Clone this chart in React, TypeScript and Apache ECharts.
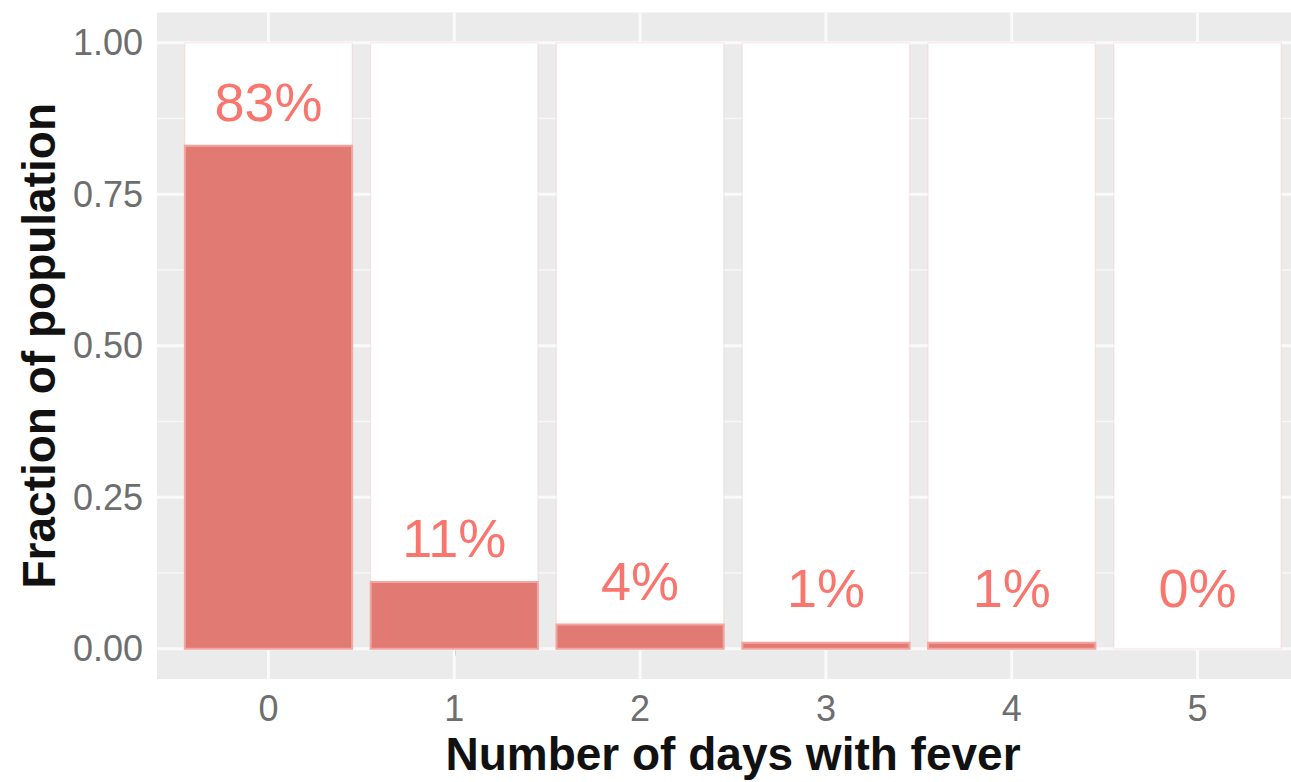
import React, { useEffect, useRef } from "react";
import * as echarts from "echarts";

// Data
const categories = [0, 1, 2, 3, 4, 5];
const fractions = [0.83, 0.11, 0.04, 0.01, 0.01, 0.0];
const pctLabels = ["83%", "11%", "4%", "1%", "1%", "0%"];
const yTicks = [0, 0.25, 0.5, 0.75, 1];
const yMinor = [0.125, 0.375, 0.625, 0.875];

const FONT = "'Liberation Sans', Arial, Helvetica, sans-serif";
const BAR_HALF = 0.45;

export default function App() {
  const ref = useRef<HTMLDivElement>(null);

  useEffect(() => {
    document.body.style.margin = "0";
    const chart = echarts.init(ref.current!, null, { renderer: "svg" });

    const option: any = {
      animation: false,
      backgroundColor: "#ffffff",
      grid: {
        left: 157,
        top: 12.5,
        width: 1152,
        height: 670,
        show: true,
        backgroundColor: "#EBEBEB",
        borderWidth: 0,
      },
      xAxis: {
        type: "value",
        min: -0.6,
        max: 5.6,
        axisLine: { show: false },
        splitLine: { show: false },
        axisTick: {
          show: true,
          customValues: categories,
          length: 7,
          lineStyle: { color: "#4D4D4D", width: 2 },
        },
        axisLabel: {
          customValues: categories,
          formatter: (v: number) => String(Math.round(v)),
          fontSize: 36,
          fontFamily: FONT,
          color: "#6E6E6E",
          margin: 11,
        },
        name: "Number of days with fever",
        nameLocation: "middle",
        nameGap: 52,
        nameTextStyle: {
          fontSize: 46,
          fontWeight: "bold",
          fontFamily: FONT,
          color: "#111111",
        },
      },
      yAxis: {
        type: "value",
        min: -0.05,
        max: 1.05,
        axisLine: { show: false },
        splitLine: { show: false },
        axisTick: {
          show: true,
          customValues: yTicks,
          length: 7,
          lineStyle: { color: "#4D4D4D", width: 2 },
        },
        axisLabel: {
          customValues: yTicks,
          formatter: (v: number) => v.toFixed(2),
          fontSize: 36,
          fontFamily: FONT,
          color: "#6E6E6E",
          margin: 14,
        },
        name: "Fraction of population",
        nameLocation: "middle",
        nameRotate: 90,
        nameGap: 92,
        nameTextStyle: {
          fontSize: 46,
          fontWeight: "bold",
          fontFamily: FONT,
          color: "#111111",
        },
      },
      series: [
        {
          type: "custom",
          name: "grid",
          z: 1,
          silent: true,
          data: [0],
          renderItem: (params: any, api: any) => {
            const cs = params.coordSys;
            const children: any[] = [];
            yMinor.forEach((v) => {
              const p = api.coord([0, v]);
              children.push({
                type: "line",
                shape: { x1: cs.x, y1: p[1], x2: cs.x + cs.width, y2: p[1] },
                style: { stroke: "#F7F7F7", lineWidth: 1.5 },
              });
            });
            yTicks.forEach((v) => {
              const p = api.coord([0, v]);
              children.push({
                type: "line",
                shape: { x1: cs.x, y1: p[1], x2: cs.x + cs.width, y2: p[1] },
                style: { stroke: "#FAFAFA", lineWidth: 3 },
              });
            });
            categories.forEach((c) => {
              const p = api.coord([c, 0]);
              children.push({
                type: "line",
                shape: { x1: p[0], y1: cs.y, x2: p[0], y2: cs.y + cs.height },
                style: { stroke: "#FAFAFA", lineWidth: 3 },
              });
            });
            return { type: "group", children };
          },
        },
        {
          type: "custom",
          name: "columns",
          z: 2,
          silent: true,
          data: categories.map((c) => [c, 1]),
          encode: { x: 0, y: 1 },
          renderItem: (params: any, api: any) => {
            const c = api.value(0);
            const top = api.coord([c - BAR_HALF, api.value(1)]);
            const bot = api.coord([c + BAR_HALF, 0]);
            return {
              type: "rect",
              shape: { x: top[0], y: top[1], width: bot[0] - top[0], height: bot[1] - top[1] },
              style: { fill: "#FFFFFF", stroke: "rgba(248,118,109,0.12)", lineWidth: 1.5 },
            };
          },
        },
        {
          type: "custom",
          name: "bars",
          z: 3,
          data: categories.map((c, i) => [c, fractions[i]]),
          encode: { x: 0, y: 1 },
          renderItem: (params: any, api: any) => {
            const c = api.value(0);
            const v = api.value(1);
            if (v <= 0) return null;
            const top = api.coord([c - BAR_HALF, v]);
            const bot = api.coord([c + BAR_HALF, 0]);
            return {
              type: "rect",
              shape: { x: top[0], y: top[1], width: bot[0] - top[0], height: bot[1] - top[1] },
              style: { fill: "#E07A72", stroke: "#F4A59F", lineWidth: 2 },
            };
          },
        },
        {
          type: "custom",
          name: "labels",
          z: 4,
          silent: true,
          data: categories.map((c, i) => [c, Math.max(fractions[i], 0.028) + 0.072]),
          encode: { x: 0, y: 1 },
          renderItem: (params: any, api: any) => {
            const p = api.coord([api.value(0), api.value(1)]);
            return {
              type: "text",
              x: p[0],
              y: p[1],
              style: {
                text: pctLabels[params.dataIndex],
                fill: "#F8766D",
                fontSize: 54,
                fontFamily: FONT,
                align: "center",
                verticalAlign: "middle",
              },
            };
          },
        },
      ],
    };

    chart.setOption(option);
    return () => chart.dispose();
  }, []);

  return (
    <div style={{ width: 1291, height: 782, overflow: "hidden", position: "relative" }}>
      <div ref={ref} style={{ width: 1312, height: 782 }} />
    </div>
  );
}
